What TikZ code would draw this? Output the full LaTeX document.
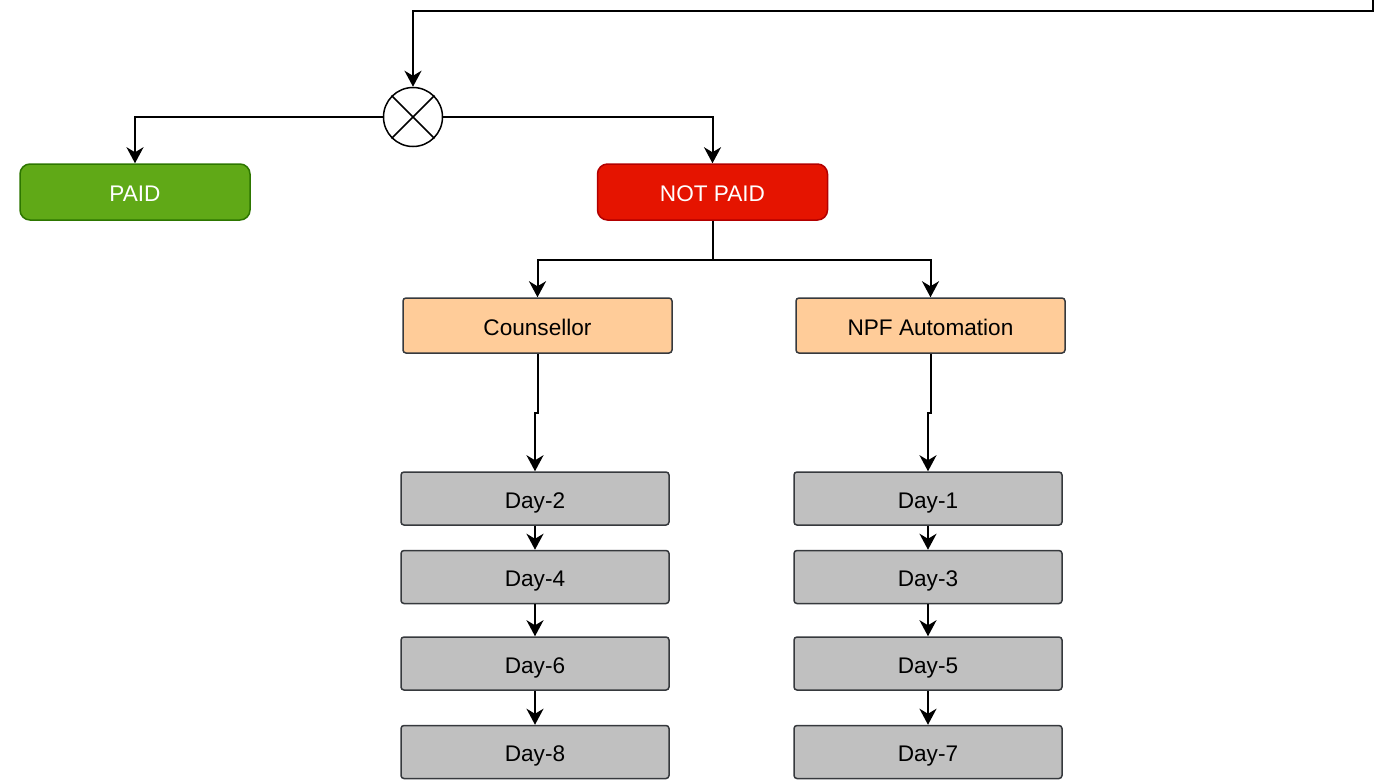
\documentclass[tikz,border=0pt]{standalone}
\usepackage{fontspec}
\setmainfont{Liberation Sans}
\usetikzlibrary{arrows.meta}
\definecolor{paidfill}{HTML}{60A917}
\definecolor{paiddraw}{HTML}{2D7600}
\definecolor{unpaidfill}{HTML}{E51400}
\definecolor{unpaiddraw}{HTML}{B20000}
\definecolor{agentfill}{HTML}{FFCC99}
\definecolor{dayfill}{HTML}{C0C0C0}
\definecolor{boxdraw}{HTML}{36393D}
\begin{document}
\begin{tikzpicture}[x=0.5pt, y=-0.5pt,
      every node/.style={font=\fontsize{11.3}{13}\selectfont, text height=9.6pt, text depth=0pt},
      status/.style={rectangle, rounded corners=5pt, line width=0.75pt, text=white,
        minimum width=115pt, minimum height=28pt},
      agent/.style={rectangle, rounded corners=1.5pt, draw=boxdraw, fill=agentfill,
        line width=0.75pt, minimum width=134.5pt, minimum height=27.5pt},
      day/.style={rectangle, rounded corners=1.5pt, draw=boxdraw, fill=dayfill,
        line width=0.75pt, minimum width=134pt, minimum height=26.5pt},
      arr/.style={line width=1pt, -{Stealth[length=8pt, width=8.5pt, inset=2.5pt]}}]
      \useasboundingbox (0,0) rectangle (1383,783);
      \coordinate (top) at (1373,0);
      \coordinate (corner) at (1373,11);
      \node[circle, draw, line width=0.75pt, minimum size=29.5pt, inner sep=0pt](xor) at (413,117){};
      \draw[line width=0.75pt] (xor.45) -- (xor.225) (xor.135) -- (xor.315);
      \node[status, draw=paiddraw, fill=paidfill](paid) at (135,192){PAID};
      \node[status, draw=unpaiddraw, fill=unpaidfill](notpaid) at (712.5,192){NOT PAID};
      \node[agent](couns) at (537.5,325.5){Counsellor};
      \node[agent](npf) at (930.5,325.5){NPF Automation};
      \node[day](day2) at (535,498.5){Day-2};
      \node[day](day4) at (535,577){Day-4};
      \node[day](day6) at (535,663.5){Day-6};
      \node[day](day8) at (535,752){Day-8};
      \node[day](day1) at (928,498.5){Day-1};
      \node[day](day3) at (928,577){Day-3};
      \node[day](day5) at (928,663.5){Day-5};
      \node[day](day7) at (928,752){Day-7};
      \draw[arr] (top) -- (corner) -| (xor.north);
      \draw[arr] (xor.west) -| (paid.north);
      \draw[arr] (xor.east) -| (notpaid.north);
      \draw[arr] (notpaid.south) -- ++(0,39) -| (couns.north);
      \draw[arr] (notpaid.south) -- ++(0,39) -| (npf.north);
      \draw[arr] (couns.south) -- ++(0,59) -| (day2.north);
      \draw[arr] (npf.south) -- ++(0,59) -| (day1.north);
      \draw[arr] (day2) -- (day4);
      \draw[arr] (day4) -- (day6);
      \draw[arr] (day6) -- (day8);
      \draw[arr] (day1) -- (day3);
      \draw[arr] (day3) -- (day5);
      \draw[arr] (day5) -- (day7);
    \end{tikzpicture}
\end{document}
